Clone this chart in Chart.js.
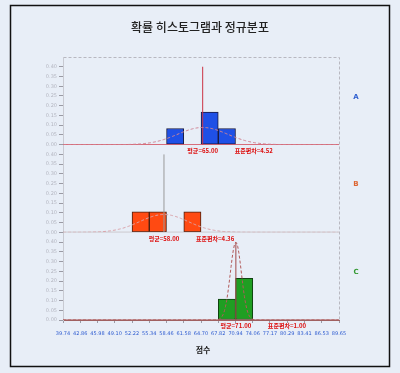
<!DOCTYPE html>
<html>
<head>
<meta charset="utf-8">
<script src="https://cdn.jsdelivr.net/npm/chart.js@4/dist/chart.umd.min.js"></script>
<style>
  html, body { margin: 0; padding: 0; background: #e8eef7; }
  #wrap { width: 400px; height: 373px; }
</style>
</head>
<body>
<div id="wrap"><canvas id="chart" width="400" height="373"></canvas></div>
<script>
// 점수 축 눈금 (계급 경계)
const xTicks = [39.74, 42.86, 45.98, 49.10, 52.22, 55.34, 58.46, 61.58, 64.70, 67.82, 70.94, 74.06, 77.17, 80.29, 83.41, 86.53, 89.65];
const yTicks = [0, 0.05, 0.10, 0.15, 0.20, 0.25, 0.30, 0.35, 0.40];
const groups = ['A', 'B', 'C'];

// 그룹별 히스토그램: 계급 시작값과 확률
const binStartA = [58.46, 64.70, 67.82];
const probA = [0.083, 0.167, 0.083];
const binStartB = [52.22, 55.34, 61.58];
const probB = [0.105, 0.105, 0.105];
const binStartC = [67.82, 70.94];
const probC = [0.107, 0.214];

// 정규분포 모수
const means = [65.00, 58.00, 71.00];
const sds = [4.52, 4.36, 1.00];

const binWidth = xTicks[1] - xTicks[0];
const xMin = xTicks[0], xMax = xTicks[xTicks.length - 1];
const axisIds = ['yA', 'yB', 'yC'];
const barFill = ['#1f50e6', '#ff4a12', '#1f9e22'];
const barLine = ['#1a1a40', '#4a2010', '#104010'];
const curveColor = ['#d08494', '#d9a3aa', '#b25a5a'];
const meanColor = ['#cc3344', '#9a9a9a', '#a04848'];
const baseColor = ['#cc2233', '#a08c8c', '#a04848'];
const letterColor = ['#3060d0', '#dd6633', '#339933'];
const krFont = '"Noto Sans CJK KR", "Noto Sans", sans-serif';

const bins = [[binStartA, probA], [binStartB, probB], [binStartC, probC]];

function normalPdf(x, m, s) {
  return Math.exp(-0.5 * ((x - m) / s) ** 2) / (s * Math.sqrt(2 * Math.PI));
}

const datasets = [];
groups.forEach((g, i) => {
  const [starts, probs] = bins[i];
  datasets.push({
    type: 'bar',
    label: g,
    yAxisID: axisIds[i],
    data: starts.map((s, k) => ({ x: s + binWidth / 2, y: probs[k] })),
    backgroundColor: barFill[i],
    borderColor: barLine[i],
    borderWidth: 1,
    borderSkipped: false,
    grouped: false,
    barPercentage: 1,
    categoryPercentage: 1,
    order: 2
  });
  // 기준선 y = 0
  datasets.push({
    type: 'line',
    yAxisID: axisIds[i],
    data: [{ x: xMin, y: 0 }, { x: xMax, y: 0 }],
    borderColor: baseColor[i],
    borderWidth: 1,
    pointRadius: 0,
    order: 1
  });
  // 정규곡선
  const curve = [];
  for (let x = xMin; x <= xMax + 1e-9; x += 0.2) {
    curve.push({ x: x, y: normalPdf(x, means[i], sds[i]) });
  }
  datasets.push({
    type: 'line',
    yAxisID: axisIds[i],
    data: curve,
    borderColor: curveColor[i],
    borderWidth: 1,
    borderDash: [3, 2],
    pointRadius: 0,
    tension: 0,
    order: 0
  });
  // 평균선
  datasets.push({
    type: 'line',
    yAxisID: axisIds[i],
    data: [{ x: means[i], y: 0 }, { x: means[i], y: yTicks[yTicks.length - 1] }],
    borderColor: meanColor[i],
    borderWidth: 1,
    pointRadius: 0,
    order: 0
  });
});

function panelAxis(weight) {
  return {
    type: 'linear',
    position: 'left',
    stack: 'panels',
    stackWeight: 1,
    weight: weight,
    min: 0,
    max: 0.45,
    afterBuildTicks: s => { s.ticks = yTicks.map(v => ({ value: v })); },
    afterFit: s => { s.width = 46; },
    ticks: {
      autoSkip: false,
      font: { size: 5, family: 'DejaVu Sans' },
      color: '#b4b6c0',
      padding: 2,
      callback: v => v.toFixed(2)
    },
    grid: { drawOnChartArea: false, tickLength: 4, color: '#9a9aa4' },
    border: { color: '#c8cad2' }
  };
}

const decor = {
  id: 'decor',
  beforeDraw(chart) {
    const { ctx, chartArea: a } = chart;
    ctx.save();
    ctx.fillStyle = '#e8eef7';
    ctx.fillRect(0, 0, chart.width, chart.height);
    ctx.strokeStyle = '#111';
    ctx.lineWidth = 1.5;
    ctx.strokeRect(10.5, 5.5, 379, 361);
    ctx.fillStyle = '#222';
    ctx.font = '500 12px ' + krFont;
    ctx.textAlign = 'center';
    ctx.textBaseline = 'middle';
    ctx.fillText('확률 히스토그램과 정규분포', 200, 27);
    ctx.strokeStyle = '#b8b8c0';
    ctx.lineWidth = 1;
    ctx.setLineDash([3, 2]);
    ctx.strokeRect(a.left + 0.5, a.top + 0.5, a.right - a.left, a.bottom - a.top);
    ctx.restore();
  },
  afterDatasetsDraw(chart) {
    const { ctx, chartArea: a, scales } = chart;
    const xs = scales.x;
    ctx.save();
    ctx.textBaseline = 'middle';
    groups.forEach((g, i) => {
      const ys = scales[axisIds[i]];
      const base = ys.getPixelForValue(0);
      const mx = xs.getPixelForValue(means[i]);
      ctx.fillStyle = '#dd1111';
      ctx.font = 'bold 6px ' + krFont;
      ctx.textAlign = 'center';
      ctx.fillText('평균=' + means[i].toFixed(2), mx, base + 6);
      ctx.textAlign = 'left';
      ctx.fillText('표준편차=' + sds[i].toFixed(2), mx + 32, base + 6);
      ctx.fillStyle = letterColor[i];
      ctx.font = 'bold 7px DejaVu Sans';
      ctx.textAlign = 'center';
      ctx.fillText(g, a.right + 17, (ys.top + ys.bottom) / 2 - 4);
    });
    ctx.fillStyle = '#222';
    ctx.font = 'bold 8px ' + krFont;
    ctx.textAlign = 'center';
    ctx.fillText('점수', (a.left + a.right) / 2 + 2, 350);
    ctx.restore();
  }
};

new Chart(document.getElementById('chart'), {
  data: { datasets: datasets },
  options: {
    responsive: false,
    animation: false,
    layout: { padding: { left: 17, right: 61, top: 57, bottom: 13 } },
    plugins: { legend: { display: false }, tooltip: { enabled: false } },
    scales: {
      x: {
        type: 'linear',
        offset: false,
        min: xMin,
        max: xMax,
        afterBuildTicks: s => { s.ticks = xTicks.map(v => ({ value: v })); },
        afterFit: s => { s.height = 40; },
        ticks: {
          autoSkip: false,
          maxRotation: 0,
          font: { size: 5, family: 'DejaVu Sans' },
          color: '#2c5ad0',
          padding: 8,
          callback: v => v.toFixed(2)
        },
        grid: { offset: false, drawOnChartArea: false, tickLength: 3, color: '#9a9aa4' },
        border: { color: '#a06060' }
      },
      yA: panelAxis(3),
      yB: panelAxis(2),
      yC: panelAxis(1)
    }
  },
  plugins: [decor]
});
</script>
</body>
</html>
